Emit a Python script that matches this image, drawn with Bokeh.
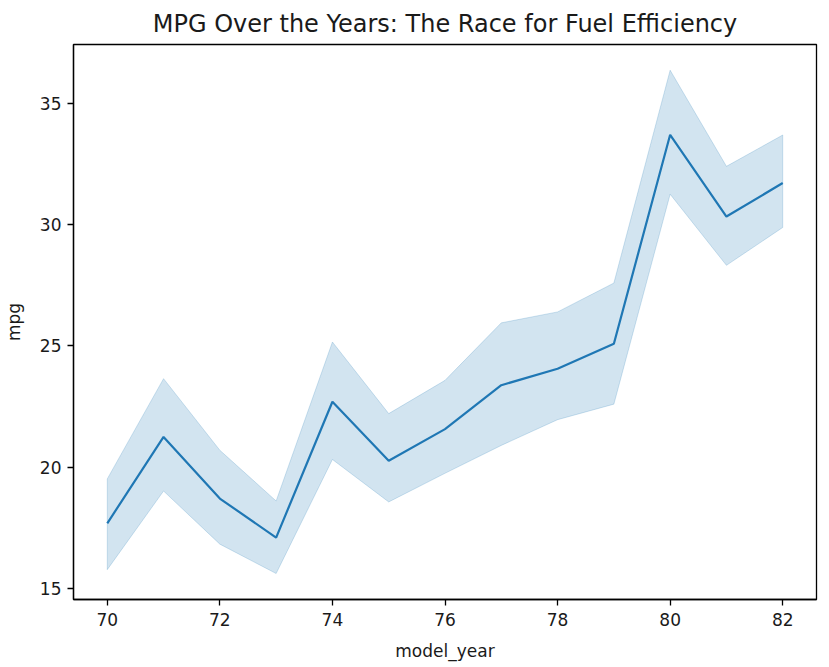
from bokeh.plotting import figure
from bokeh.models import Range1d, FixedTicker
from bokeh.embed import file_html
from bokeh.resources import INLINE

years = [70, 71, 72, 73, 74, 75, 76, 77, 78, 79, 80, 81, 82]
mpg_mean = [17.69, 21.25, 18.71, 17.10, 22.70, 20.27, 21.57, 23.38, 24.06, 25.09, 33.70, 30.33, 31.71]
ci_upper = [19.52, 23.65, 20.70, 18.61, 25.16, 22.21, 23.58, 25.95, 26.40, 27.59, 36.36, 32.40, 33.69]
ci_lower = [15.78, 19.02, 16.83, 15.62, 20.32, 18.57, 19.75, 20.90, 21.96, 22.60, 31.25, 28.32, 29.88]
x_ticks = [70, 72, 74, 76, 78, 80, 82]
y_ticks = [15, 20, 25, 30, 35]

FONT = "DejaVu Sans"
BLUE = "#1f77b4"

p = figure(
    frame_width=743, frame_height=555,
    output_backend="svg", toolbar_location=None,
    x_range=Range1d(69.4, 82.6), y_range=Range1d(14.55, 37.42),
    title="MPG Over the Years: The Race for Fuel Efficiency",
    min_border_left=65, min_border_right=6, min_border_top=44, min_border_bottom=10,
)
p.title.align = "center"
p.title.text_font = FONT
p.title.text_font_size = "24px"
p.title.text_font_style = "normal"
p.title.text_color = "#1a1a1a"
p.title.standoff = 13

# band
band_x = years + years[::-1]
band_y = ci_upper + ci_lower[::-1]
p.patch(band_x, band_y, fill_color=BLUE, fill_alpha=0.2, line_color=BLUE, line_alpha=0.2, line_width=1)
p.line(years, mpg_mean, line_color=BLUE, line_width=2.2)

p.xgrid.visible = False
p.ygrid.visible = False
p.outline_line_color = "black"
p.outline_line_width = 1.3
p.outline_line_alpha = 1.0

for ax in (p.xaxis[0], p.yaxis[0]):
    ax.axis_line_color = "black"
    ax.axis_line_width = 1.3
    ax.major_tick_line_color = "black"
    ax.major_tick_line_width = 1.3
    ax.major_tick_in = 0
    ax.major_tick_out = 6
    ax.minor_tick_line_color = None
    ax.major_label_text_font = FONT
    ax.major_label_text_font_size = "17px"
    ax.major_label_text_color = "#1a1a1a"
    ax.axis_label_text_font = FONT
    ax.axis_label_text_font_size = "17px"
    ax.axis_label_text_font_style = "normal"
    ax.axis_label_text_color = "#1a1a1a"

p.xaxis.ticker = FixedTicker(ticks=x_ticks)
p.yaxis.ticker = FixedTicker(ticks=y_ticks)
p.xaxis.axis_label = "model_year"
p.yaxis.axis_label = "mpg"
p.xaxis.major_label_standoff = 7
p.yaxis.major_label_standoff = 6
p.xaxis.axis_label_standoff = 12
p.yaxis.axis_label_standoff = 13

open("out.html", "w").write(file_html(p, INLINE))
